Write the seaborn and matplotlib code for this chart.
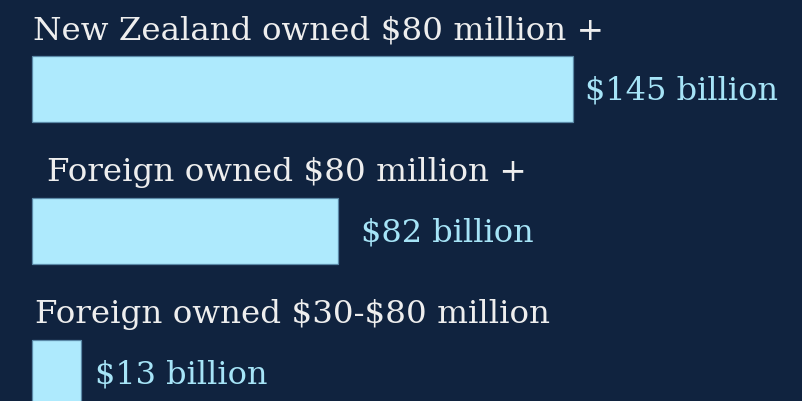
import matplotlib
matplotlib.use("Agg")
import matplotlib.pyplot as plt
import seaborn as sns
import pandas as pd

# Investment totals by ownership and size band (NZ$ billion)
categories = [
    "New Zealand owned $80 million +",
    "Foreign owned $80 million +",
    "Foreign owned $30-$80 million",
]
values = [145, 82, 13]
value_labels = ["$145 billion", "$82 billion", "$13 billion"]

# small per-row typographic nudges (pixels)
title_indent = [1, 15, 3]
label_gap = [12, 23, 14]

BG = "#10233f"
BAR = "#aeeafd"
EDGE = "#5b8aa8"
TITLE_C = "#eeeeee"
VALUE_C = "#a6e4f7"

sns.set_theme(style="white")
plt.rcParams["font.family"] = ["DejaVu Serif"]
plt.rcParams["text.parse_math"] = False

df = pd.DataFrame({"category": categories, "value": values})

fig = plt.figure(figsize=(8.02, 4.01), dpi=100, facecolor=BG)
ax = fig.add_axes([0, 0, 1, 1])
ax.set_facecolor(BG)

sns.barplot(data=df, x="value", y="category", orient="h", color=BAR,
            edgecolor=EDGE, linewidth=0.9, width=0.465, saturation=1, ax=ax)

# pixel-to-data framing: 142 px between rows, ~3.73 px per $bn
ax.set_ylim(2.197, -0.627)
ax.set_xlim(-8.58, 206.4)
ax.set_axis_off()

fs_title = 23.4
fs_value = 23
for i, (cat, val, lab) in enumerate(zip(categories, values, value_labels)):
    ax.annotate(cat, xy=(0, i), xytext=(title_indent[i], 50),
                textcoords="offset pixels", ha="left", va="baseline",
                color=TITLE_C, fontsize=fs_title)
    ax.annotate(lab, xy=(val, i), xytext=(label_gap[i], -2),
                textcoords="offset pixels", ha="left", va="center",
                color=VALUE_C, fontsize=fs_value)

fig.savefig("out.png", dpi=100, facecolor=BG)
